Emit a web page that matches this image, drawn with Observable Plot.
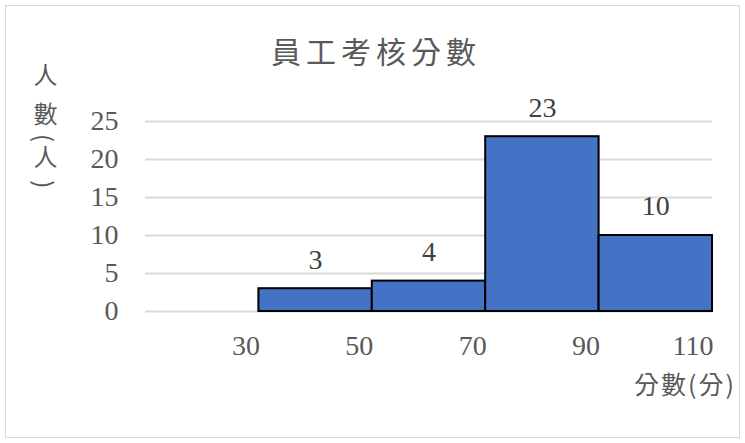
<!DOCTYPE html>
<html>
<head>
<meta charset="utf-8">
<script src="https://cdn.jsdelivr.net/npm/d3@7"></script>
<script src="https://cdn.jsdelivr.net/npm/@observablehq/plot@0.6"></script>
<style>
  body { margin: 0; background: #fff; }
  #wrap { position: relative; width: 745px; height: 443px; overflow: hidden; font-family: "Liberation Serif", "Noto Sans CJK TC", serif; color: #595959; }
  #frame { position: absolute; left: 5px; top: 5px; width: 735px; height: 433px; border: 1.5px solid #d9d9d9; box-sizing: border-box; }
  #title { position: absolute; left: 0; width: 752px; top: 28px; text-align: center; font-size: 30px; letter-spacing: 5px; font-family: "Noto Sans CJK TC", sans-serif; font-weight: 400; }
  #ylab { position: absolute; left: 31px; top: 63px; writing-mode: vertical-rl; font-size: 24px; line-height: 28px; font-family: "Noto Sans CJK TC", sans-serif; letter-spacing: 11px; }
  #ylab .p { letter-spacing: 3px; }
  #xlab { position: absolute; right: 9px; top: 365px; font-size: 25px; font-family: "Noto Sans CJK TC", sans-serif; letter-spacing: 2px; }
  #chart { position: absolute; left: 0; top: 0; }
</style>
</head>
<body>
<div id="wrap">
  <div id="frame"></div>
  <div id="chart"></div>
  <div id="title">員工考核分數</div>
  <div id="ylab"><span style="letter-spacing:15px">人</span><span style="letter-spacing:8px">數</span><span class="p">(</span>人<span class="p">)</span></div>
  <div id="xlab">分數(分)</div>
</div>
<script>
const binStarts = [30, 50, 70, 90];
const binEnds = [50, 70, 90, 110];
const counts = [3, 4, 23, 10];
const xTicks = [30, 50, 70, 90, 110];
const yTicks = [0, 5, 10, 15, 20, 25];
const xDomain = [10, 110];
const yDomain = [0, 25];

const bins = counts.map((c, i) => ({x1: binStarts[i], x2: binEnds[i], count: c, mid: (binStarts[i] + binEnds[i]) / 2}));

const chart = Plot.plot({
  width: 745,
  height: 443,
  marginLeft: 145,
  marginRight: 33,
  marginTop: 121,
  marginBottom: 132,
  style: {fontFamily: "'Liberation Serif', serif", color: "#595959", background: "transparent"},
  x: {domain: xDomain},
  y: {domain: yDomain},
  marks: [
    Plot.gridY(yTicks, {stroke: "#d9d9d9", strokeOpacity: 1, strokeWidth: 2}),
    Plot.rectY(bins, {x1: "x1", x2: "x2", y: "count", fill: "#4472C4", stroke: "#000", strokeWidth: 2, inset: 0}),
    Plot.text(bins, {x: "mid", y: "count", text: d => String(d.count), dy: -29, fontSize: 28, fill: "#404040"}),
    Plot.axisY(yTicks, {tickSize: 0, tickPadding: 27, fontSize: 28, label: null, fill: "#595959"}),
    Plot.axisX(xTicks, {tickSize: 0, tickPadding: 24, fontSize: 28, textAnchor: "end", dx: 1, label: null, fill: "#595959"})
  ]
});
document.getElementById("chart").appendChild(chart);
</script>
</body>
</html>
